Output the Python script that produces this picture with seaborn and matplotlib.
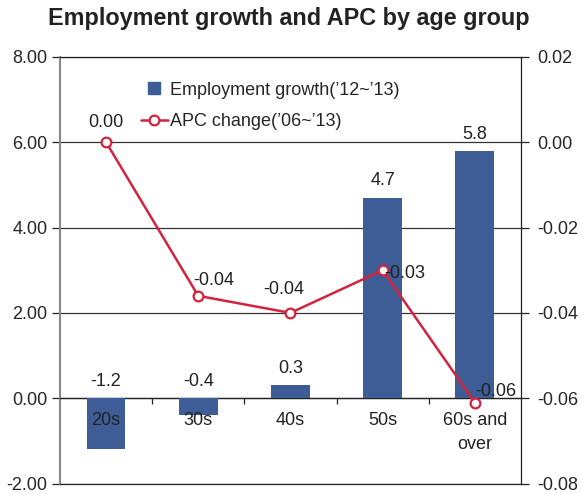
import matplotlib
matplotlib.use("Agg")
import matplotlib.pyplot as plt
from matplotlib.lines import Line2D
import seaborn as sns
import numpy as np

categories = ["20s", "30s", "40s", "50s", "60s and\nover"]
employment = [-1.2, -0.4, 0.3, 4.7, 5.8]
employment_labels = ["-1.2", "-0.4", "0.3", "4.7", "5.8"]
apc = [0.000, -0.036, -0.040, -0.030, -0.061]
apc_labels = ["0.00", "-0.04", "-0.04", "-0.03", "-0.06"]
left_ticks = [-2, 0, 2, 4, 6, 8]
right_ticks = [-0.08, -0.06, -0.04, -0.02, 0.00, 0.02]

sns.set_style("white")
plt.rcParams["font.family"] = ["Liberation Sans", "DejaVu Sans"]

BLUE = "#3E5C96"
RED = "#D3233E"
DARK = "#222222"

fig = plt.figure(figsize=(5.82, 4.94), dpi=100)
ax = fig.add_axes([0.103, 0.021, 0.792, 0.864])

sns.barplot(x=categories, y=employment, ax=ax, color=BLUE, saturation=1,
            width=0.42, errorbar=None, zorder=3, linewidth=0, edgecolor="none")
ax.set_ylim(-2, 8)
ax.set_xlim(-0.5, 4.5)
ax.set_yticks(left_ticks)
ax.set_yticklabels([f"{t:.2f}" for t in left_ticks])
ax.yaxis.grid(True, color="#333333", linewidth=0.9, zorder=0)
ax.set_axisbelow(True)
ax.set_xlabel("")
ax.set_ylabel("")
ax.spines["bottom"].set_position(("data", 0))
ax.spines["bottom"].set_color(DARK)
ax.spines["bottom"].set_linewidth(0.9)
ax.spines["top"].set_visible(False)
ax.spines["right"].set_visible(False)
ax.spines["left"].set_color("#888888")
ax.spines["left"].set_linewidth(1.5)
ax.set_xticks(np.arange(0.5, len(categories) - 1, 1.0))
ax.set_xticklabels([])
ax.tick_params(axis="x", direction="out", length=4, width=0.9, color=DARK, bottom=True)
ax.tick_params(axis="y", direction="out", length=6, width=0.9, color=DARK,
               labelsize=13, pad=3, left=True)

for i, (v, lab) in enumerate(zip(employment, employment_labels)):
    ax.annotate(lab, xy=(i, max(v, 0)), xytext=(0, 12), textcoords="offset points",
                ha="center", va="center", fontsize=13, color=DARK, zorder=5)
for i, c in enumerate(categories):
    ax.annotate(c, xy=(i, 0), xytext=(0, -10), textcoords="offset points",
                ha="center", va="top", fontsize=13, color=DARK, zorder=5,
                linespacing=1.5)

ax2 = ax.twinx()
sns.pointplot(x=categories, y=apc, ax=ax2, color=RED, markers="o",
              errorbar=None, markersize=7, markerfacecolor="white",
              markeredgewidth=1.6, linewidth=1.8)
ax2.set_ylim(-0.08, 0.02)
ax2.set_xlim(-0.5, 4.5)
ax2.set_yticks(right_ticks)
ax2.set_yticklabels([f"{t:.2f}" for t in right_ticks])
ax2.set_ylabel("")
ax2.spines["left"].set_visible(False)
for s in ["right", "top", "bottom"]:
    ax2.spines[s].set_visible(True)
    ax2.spines[s].set_color(DARK)
    ax2.spines[s].set_linewidth(0.9)
ax2.tick_params(axis="y", direction="out", length=6, width=0.9, color=DARK,
                labelsize=13, pad=6, right=True)
ax2.tick_params(axis="x", bottom=False, labelbottom=False)

apc_offsets = [(0, 14.4), (11.5, 10.8), (-5, 16.6), (15.8, -2.2), (15, 8)]
for i, (v, lab) in enumerate(zip(apc, apc_labels)):
    dx, dy = apc_offsets[i]
    ax2.annotate(lab, xy=(i, v), xytext=(dx, dy), textcoords="offset points",
                 ha="center", va="center", fontsize=13, color=DARK, zorder=6)

handles = [
    Line2D([], [], color=BLUE, marker="s", linestyle="none", markersize=9),
    Line2D([], [], color=RED, marker="o", markerfacecolor="white",
           markeredgewidth=1.6, markersize=7, linewidth=1.8),
]
ax2.legend(handles, ["Employment growth(’12~’13)", "APC change(’06~’13)"],
           loc="upper left", bbox_to_anchor=(0.14, 0.98), frameon=False,
           fontsize=13, handlelength=1.5, handletextpad=0.12, labelspacing=0.8)

fig.suptitle("Employment growth and APC by age group", x=0.497, y=0.985,
             fontsize=16.8, fontweight="bold", color=DARK)

fig.savefig("out.png", dpi=100)
